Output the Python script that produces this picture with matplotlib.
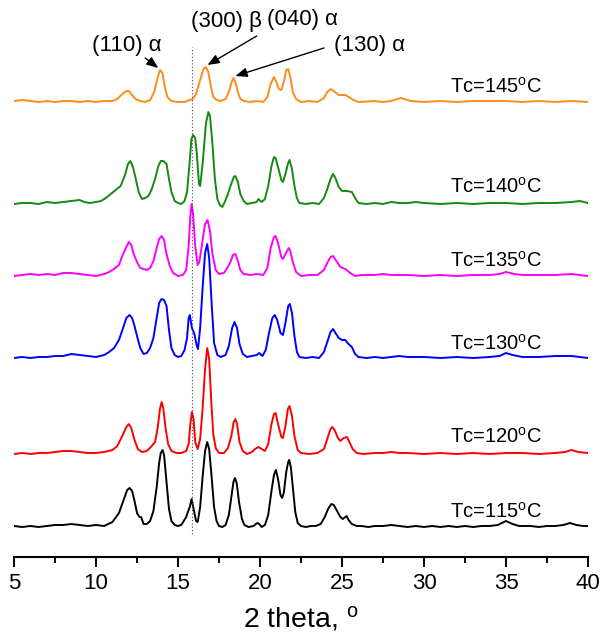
"""Stacked XRD patterns of samples crystallised at different Tc."""
import matplotlib
matplotlib.use('Agg')
import matplotlib.pyplot as plt
import numpy as np

plt.rcParams.update({
    'font.family': 'Liberation Sans',
    'mathtext.fontset': 'custom',
    'mathtext.rm': 'Liberation Sans',
    'mathtext.it': 'Liberation Sans:italic',
})

# ---------------------------------------------------------------------------
# Data: traced points (2theta, intensity above each curve's own baseline)
# ---------------------------------------------------------------------------
x_115 = [5.0, 5.5, 6.0, 6.5, 7.0, 7.5, 8.0, 8.5, 9.0, 9.5, 10.0, 10.5, 11.0, 11.4, 11.7, 11.9,
         12.05, 12.2, 12.35, 12.5, 12.65, 12.75, 12.9, 13.1, 13.3, 13.5, 13.7, 13.85, 13.95, 14.06,
         14.15, 14.3, 14.45, 14.6, 14.8, 15.0, 15.2, 15.5, 15.6, 15.72, 15.83, 15.95, 16.1, 16.2,
         16.35, 16.5, 16.65, 16.78, 16.9, 17.05, 17.2, 17.35, 17.5, 17.7, 17.9, 18.1, 18.25, 18.38,
         18.47, 18.58, 18.72, 18.9, 19.05, 19.3, 19.6, 19.75, 19.85, 19.95, 20.1, 20.3, 20.5, 20.7,
         20.85, 20.97, 21.1, 21.25, 21.35, 21.45, 21.6, 21.72, 21.78, 21.88, 22.0, 22.15, 22.3, 22.5,
         22.8, 23.1, 23.4, 23.7, 23.95, 24.15, 24.35, 24.5, 24.7, 24.9, 25.05, 25.2, 25.28, 25.4,
         25.6, 25.9, 26.2, 26.6, 27.0, 27.5, 28.0, 28.5, 29.0, 29.5, 30.0, 30.5, 31.0, 31.5, 32.0,
         32.5, 33.0, 33.5, 34.0, 34.5, 35.0, 35.4, 35.8, 36.5, 37.0, 37.5, 38.0, 38.5, 38.9, 39.3,
         39.7, 40.0]
y_115 = [1, 0, 1, 0, 1, 2, 2, 3, 2, 1, 2, 1, 5, 14, 28, 37,
         39, 36, 26, 14, 10, 10, 3, 3, 6, 16, 40, 64, 74, 77,
         72, 45, 18, 6, 2, 1, 2, 10, 15, 20, 28, 18, 6, 5,
         20, 50, 76, 85, 78, 50, 20, 6, 1, 0, 2, 12, 30, 45,
         49, 44, 25, 8, 2, 0, 1, 3, 4, 3, 0, 2, 12, 36,
         52, 57, 48, 32, 29, 34, 55, 65, 67, 60, 40, 15, 4, 1,
         0, 1, 1, 3, 10, 18, 23, 22, 16, 10, 8, 10, 11, 7,
         3, 1, 1, 0, 1, 1, 2, 1, 0, 1, 0, 1, 0, 1, 0,
         1, 0, 1, 1, 2, 6, 3, 1, 1, 0, 1, 1, 2, 4, 2,
         1, 1]

x_120 = [5.0, 5.5, 6.0, 6.5, 7.0, 7.5, 8.0, 8.5, 9.0, 9.5, 10.0, 10.5, 11.0, 11.3, 11.6, 11.85,
         12.0, 12.15, 12.35, 12.55, 12.8, 13.1, 13.4, 13.6, 13.75, 13.9, 14.0, 14.1, 14.25, 14.4,
         14.6, 14.9, 15.2, 15.5, 15.65, 15.75, 15.85, 15.95, 16.05, 16.2, 16.35, 16.5, 16.65, 16.78,
         16.9, 17.02, 17.15, 17.3, 17.5, 17.8, 18.05, 18.25, 18.4, 18.5, 18.6, 18.75, 18.95, 19.2,
         19.5, 19.7, 19.9, 20.1, 20.3, 20.5, 20.7, 20.85, 20.95, 21.1, 21.3, 21.4, 21.55, 21.7,
         21.8, 21.95, 22.1, 22.3, 22.5, 23.0, 23.5, 23.9, 24.1, 24.3, 24.4, 24.55, 24.75, 24.9,
         25.1, 25.3, 25.45, 25.65, 25.9, 26.3, 27.0, 27.5, 28.0, 28.5, 29.0, 30.0, 31.0, 32.0,
         33.0, 34.0, 35.0, 36.0, 37.0, 38.0, 38.6, 39.0, 39.4, 40.0]
y_120 = [0, 1, 0, 1, 1, 2, 3, 3, 2, 1, 1, 2, 4, 8, 18, 27,
         30, 26, 14, 5, 2, 3, 8, 12, 25, 45, 52, 46, 25, 10,
         3, 1, 1, 3, 10, 30, 42, 35, 12, 5, 15, 45, 85, 106,
         95, 55, 20, 6, 1, 1, 6, 18, 32, 35, 30, 12, 3, 0,
         2, 5, 7, 5, 3, 10, 30, 40, 41, 30, 17, 16, 28, 45,
         48, 38, 18, 4, 1, 0, 1, 5, 15, 25, 27, 24, 16, 13,
         16, 17, 12, 5, 1, 0, 1, 1, 2, 1, 1, 0, 1, 0,
         1, 0, 1, 1, 0, 1, 2, 4, 2, 1]

x_130 = [5.0, 5.5, 6.0, 6.5, 7.0, 7.5, 8.0, 8.5, 9.0, 9.5, 10.0, 10.5, 10.8, 11.1, 11.4, 11.65,
         11.85, 12.05, 12.2, 12.35, 12.5, 12.7, 12.9, 13.1, 13.3, 13.5, 13.7, 13.85, 14.0, 14.15,
         14.3, 14.45, 14.6, 14.8, 15.0, 15.2, 15.4, 15.55, 15.65, 15.72, 15.85, 16.0, 16.15, 16.22,
         16.35, 16.5, 16.65, 16.78, 16.9, 17.05, 17.2, 17.4, 17.6, 17.9, 18.1, 18.3, 18.45, 18.6,
         18.75, 18.95, 19.2, 19.5, 19.8, 19.95, 20.15, 20.35, 20.55, 20.75, 20.9, 21.05, 21.25, 21.4,
         21.55, 21.72, 21.82, 21.95, 22.1, 22.25, 22.4, 22.8, 23.2, 23.6, 23.9, 24.1, 24.3, 24.45,
         24.6, 24.8, 25.0, 25.2, 25.4, 25.6, 25.8, 26.0, 26.5, 27.0, 27.5, 28.0, 28.5, 29.0,
         30.0, 31.0, 32.0, 33.0, 34.0, 34.6, 35.0, 35.4, 36.0, 37.0, 38.0, 39.0, 39.5, 40.0]
y_130 = [0, 1, 0, 1, 1, 2, 2, 4, 3, 2, 1, 3, 6, 10, 18, 30,
         40, 43, 40, 32, 22, 10, 4, 5, 10, 20, 40, 55, 59, 58,
         52, 28, 10, 3, 1, 2, 8, 20, 40, 43, 30, 24, 12, 9,
         30, 70, 105, 114, 100, 55, 15, 3, 1, 3, 12, 30, 36, 30,
         14, 4, 1, 2, 3, 5, 2, 8, 25, 40, 43, 38, 25, 23,
         35, 52, 54, 45, 22, 6, 1, 0, 1, 0, 6, 16, 26, 29,
         25, 20, 18, 18, 14, 11, 4, 1, 0, 1, 0, 1, 2, 1,
         1, 0, 1, 0, 1, 2, 5, 3, 1, 1, 2, 2, 1, 0]

x_135 = [5.0, 5.5, 6.0, 6.5, 7.0, 7.5, 8.0, 8.5, 9.0, 9.5, 10.0, 10.5, 10.8, 11.1, 11.4, 11.6,
         11.85, 12.0, 12.15, 12.3, 12.5, 12.7, 12.9, 13.1, 13.3, 13.5, 13.7, 13.85, 14.0, 14.15,
         14.3, 14.5, 14.7, 15.0, 15.3, 15.5, 15.65, 15.75, 15.83, 15.92, 16.05, 16.2, 16.3, 16.45,
         16.65, 16.8, 16.95, 17.1, 17.3, 17.5, 17.8, 18.0, 18.2, 18.35, 18.5, 18.65, 18.8, 19.0,
         19.4, 19.8, 20.2, 20.45, 20.65, 20.85, 20.95, 21.1, 21.3, 21.4, 21.55, 21.75, 21.85, 22.0,
         22.2, 22.5, 23.0, 23.5, 23.9, 24.1, 24.3, 24.45, 24.7, 24.9, 25.2, 25.5, 25.8, 26.2,
         27.0, 27.5, 28.0, 29.0, 30.0, 31.0, 32.0, 33.0, 34.0, 34.6, 35.0, 35.5, 36.0, 37.0,
         38.0, 39.0, 39.5, 40.0]
y_135 = [0, 1, 2, 1, 2, 1, 3, 3, 2, 1, 0, 2, 4, 7, 11, 20,
         29, 34, 31, 22, 14, 8, 7, 6, 8, 15, 28, 37, 40, 36,
         22, 10, 3, 0, 1, 6, 30, 60, 72, 62, 30, 11, 14, 30,
         52, 56, 45, 22, 6, 2, 3, 8, 14, 21, 22, 15, 6, 2,
         1, 2, 1, 8, 28, 39, 40, 33, 19, 17, 22, 28, 25, 14,
         4, 0, 1, 1, 6, 13, 19, 20, 14, 9, 7, 3, 0, 1,
         1, 2, 1, 1, 0, 1, 0, 1, 1, 2, 4, 2, 1, 1,
         1, 2, 1, 0]

x_140 = [5.0, 5.5, 6.0, 6.5, 7.0, 7.5, 8.0, 8.5, 9.0, 9.3, 9.6, 10.0, 10.3, 10.6, 10.9, 11.2,
         11.5, 11.75, 11.95, 12.1, 12.25, 12.4, 12.6, 12.8, 13.0, 13.2, 13.4, 13.6, 13.8, 13.95,
         14.1, 14.3, 14.45, 14.6, 14.8, 15.0, 15.2, 15.4, 15.55, 15.7, 15.82, 15.92, 16.05, 16.15,
         16.28, 16.35, 16.5, 16.7, 16.85, 16.95, 17.1, 17.25, 17.4, 17.55, 17.7, 17.85, 18.0, 18.2,
         18.4, 18.5, 18.65, 18.8, 19.0, 19.2, 19.5, 19.8, 19.9, 20.1, 20.3, 20.5, 20.7, 20.85,
         20.95, 21.1, 21.3, 21.4, 21.55, 21.7, 21.8, 21.95, 22.1, 22.25, 22.4, 22.8, 23.2, 23.6,
         23.9, 24.1, 24.3, 24.45, 24.6, 24.8, 25.0, 25.3, 25.6, 25.8, 26.0, 26.5, 27.0, 27.5,
         28.0, 28.5, 29.0, 29.5, 30.0, 31.0, 32.0, 33.0, 34.0, 35.0, 36.0, 37.0, 38.0, 39.0,
         39.5, 40.0]
y_140 = [0, 1, 1, 0, 2, 1, 2, 3, 4, 2, 1, 2, 3, 6, 10, 14,
         18, 28, 40, 43, 37, 27, 12, 5, 6, 8, 15, 25, 38, 43,
         43, 40, 25, 12, 3, 1, 0, 3, 12, 40, 65, 69, 66, 50,
         20, 18, 40, 80, 92, 88, 60, 25, 5, -1, -3, 2, 8, 18,
         27, 28, 22, 10, 3, 0, 1, 2, 5, 2, 5, 18, 38, 47,
         46, 37, 24, 22, 30, 40, 44, 35, 18, 6, 1, 0, 1, 0,
         6, 15, 25, 30, 26, 17, 13, 13, 12, 6, 1, 0, 1, 0,
         2, 1, 1, 2, 1, 0, 1, 0, 1, 1, 0, 1, 1, 2,
         3, 1]

x_145 = [5.0, 5.5, 6.0, 6.5, 7.0, 7.5, 8.0, 8.5, 9.0, 9.5, 10.0, 10.5, 11.0, 11.3, 11.6, 11.85,
         12.0, 12.2, 12.4, 12.7, 13.0, 13.3, 13.55, 13.75, 13.9, 14.05, 14.2, 14.35, 14.6, 15.0,
         15.4, 15.7, 15.9, 16.1, 16.35, 16.55, 16.7, 16.85, 17.0, 17.15, 17.35, 17.6, 17.9, 18.1,
         18.25, 18.38, 18.5, 18.65, 18.8, 19.0, 19.4, 19.8, 20.2, 20.45, 20.65, 20.85, 21.0, 21.15,
         21.3, 21.45, 21.6, 21.72, 21.85, 22.0, 22.2, 22.5, 23.0, 23.5, 23.9, 24.1, 24.3, 24.5,
         24.8, 25.0, 25.2, 25.4, 25.7, 26.0, 27.0, 27.5, 28.0, 28.6, 29.2, 30.0, 31.0, 32.0,
         33.0, 34.0, 35.0, 36.0, 37.0, 38.0, 39.0, 40.0]
y_145 = [1, 2, 1, 0, 1, 0, 1, 1, 0, 1, 0, 1, 1, 3, 8, 11,
         11, 7, 3, 1, 0, 2, 10, 24, 32, 29, 15, 5, 1, 0,
         0, 2, 3, 8, 22, 33, 35, 30, 16, 5, 2, 1, 3, 10,
         19, 24, 20, 10, 3, 1, 0, 1, 0, 5, 18, 25, 20, 13,
         12, 20, 32, 33, 25, 10, 3, 0, 1, 0, 4, 10, 13, 11,
         7, 7, 7, 5, 2, 0, 1, 0, 1, 4, 1, 0, 1, 0,
         1, 1, 1, 0, 1, 0, 1, 0]

SERIES = [
    (x_115, y_115, 30, 'black', r'Tc=115$^{\mathrm{o}}$C', 45),
    (x_120, y_120, 103, '#ff0000', r'Tc=120$^{\mathrm{o}}$C', 120),
    (x_130, y_130, 199, '#0000ff', r'Tc=130$^{\mathrm{o}}$C', 213),
    (x_135, y_135, 281, '#ff00ff', r'Tc=135$^{\mathrm{o}}$C', 296),
    (x_140, y_140, 353, '#138a13', r'Tc=140$^{\mathrm{o}}$C', 370),
    (x_145, y_145, 455, '#ff8c1a', r'Tc=145$^{\mathrm{o}}$C', 470),
]

BETA_LINE_X = 15.85


def main():
    fig = plt.figure(figsize=(6.0, 6.33), dpi=100)
    ax = fig.add_axes([14 / 600, 76 / 633, 574 / 600, 557 / 633])

    for xs, ys, offset, color, label, label_y in SERIES:
        ax.plot(xs, np.array(ys) + offset, color=color, lw=1.4)
        ax.text(31.6, label_y, label, fontsize=14.5, va='center', ha='left')

    ax.plot([BETA_LINE_X, BETA_LINE_X], [23, 510], color='#444444', lw=0.8,
            ls=(0, (1, 2)))

    # peak annotations on the top pattern
    ann = dict(fontsize=16, ha='center', va='center')
    arrow = dict(arrowstyle='-|>,head_length=0.7,head_width=0.28', color='black',
                 lw=1.0, shrinkA=0, shrinkB=0)
    ax.text(11.9, 511, '(110) α', **ann)
    ax.annotate('', xy=(13.8, 489), xytext=(13.0, 499), arrowprops=arrow)
    ax.text(17.95, 536, '(300) β', **ann)
    ax.text(22.6, 538, '(040) α', **ann)
    ax.annotate('', xy=(16.8, 492), xytext=(19.8, 521), arrowprops=arrow)
    ax.text(26.65, 511, '(130) α', **ann)
    ax.annotate('', xy=(18.5, 481), xytext=(23.9, 509), arrowprops=arrow)

    ax.set_xlim(5, 40)
    ax.set_ylim(0, 557)
    ax.set_xticks(np.arange(5, 41, 5))
    ax.set_xticks(np.arange(7.5, 40, 5), minor=True)
    ax.tick_params(axis='x', which='major', direction='out', length=7.5, width=1.4,
                   labelsize=16, pad=4)
    ax.tick_params(axis='x', which='minor', direction='out', length=4.5, width=1.4)
    ax.set_yticks([])
    for side in ('top', 'right', 'left'):
        ax.spines[side].set_visible(False)
    ax.spines['bottom'].set_linewidth(1.5)
    ax.set_xlabel(r'2 theta, $^{\mathrm{o}}$', fontsize=20.5, labelpad=7)

    fig.savefig('out.png', dpi=100)
    plt.close(fig)


if __name__ == '__main__':
    main()
